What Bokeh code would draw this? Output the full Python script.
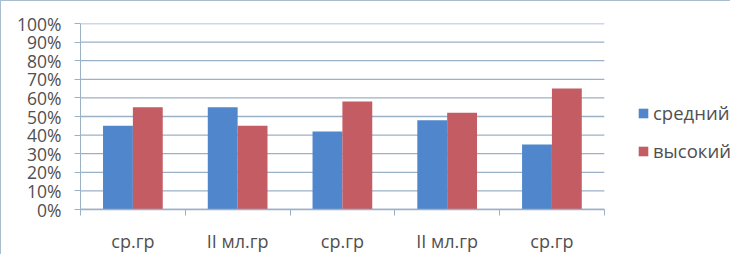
from bokeh.plotting import figure
from bokeh.models import (ColumnDataSource, Range1d, FixedTicker, Legend, LegendItem)
from bokeh.embed import file_html
from bokeh.resources import INLINE

categories = ["ср.гр", "II мл.гр", "ср.гр", "II мл.гр", "ср.гр"]
srednij = [0.45, 0.55, 0.42, 0.48, 0.35]
vysokij = [0.55, 0.45, 0.58, 0.52, 0.65]
series_names = ["средний", "высокий"]
y_ticks = [0, 0.1, 0.2, 0.3, 0.4, 0.5, 0.6, 0.7, 0.8, 0.9, 1.0]

BLUE = "#4F86CC"
RED = "#C45C63"
GRID = "#9BB1C6"
TEXT = "#505050"
FONT = "Open Sans"

n = len(categories)
centers = [i + 0.5 for i in range(n)]
bw = 0.285
src = ColumnDataSource(dict(
    xb=[c - bw / 2 for c in centers], yb=srednij,
    xr=[c + bw / 2 for c in centers], yr=vysokij,
))

# plot area of categories is 523px inside a frame of ~650px; extra room holds the legend
x_end = n * 650 / 523

p = figure(width=730, height=254, output_backend="svg", toolbar_location=None,
           x_range=Range1d(0, x_end), y_range=Range1d(0, 1),
           min_border_left=79, min_border_right=0, min_border_top=22, min_border_bottom=37)
p.styles = {"border-top": "1.5px solid #A9BDCF", "border-left": "1.5px solid #A9BDCF"}

# horizontal gridlines only across the category area
p.segment(x0=[0] * len(y_ticks), x1=[n] * len(y_ticks), y0=y_ticks, y1=y_ticks,
          line_color=GRID, line_width=1.3)

rb = p.vbar(x="xb", top="yb", width=bw, source=src, fill_color=BLUE, line_color=None)
rr = p.vbar(x="xr", top="yr", width=bw, source=src, fill_color=RED, line_color=None)

p.outline_line_color = None
p.xgrid.visible = False
p.ygrid.visible = False

ya = p.yaxis[0]
ya.ticker = FixedTicker(ticks=y_ticks)
ya.major_label_overrides = {t: f"{round(t * 100)}%" for t in y_ticks}
ya.major_tick_in = 0
ya.major_tick_out = 6
ya.minor_tick_out = 0
ya.minor_tick_in = 0
ya.axis_line_color = GRID
ya.major_tick_line_color = GRID
ya.major_label_text_font = FONT
ya.major_label_text_font_size = "17.5px"
ya.major_label_text_color = TEXT
ya.major_label_standoff = 13

xa = p.xaxis[0]
xa.bounds = (0, n)
xa.ticker = FixedTicker(ticks=centers, minor_ticks=list(range(n + 1)))
xa.major_label_overrides = {c: lab for c, lab in zip(centers, categories)}
xa.major_tick_in = 0
xa.major_tick_out = 0
xa.minor_tick_in = 0
xa.minor_tick_out = 6
xa.minor_tick_line_color = GRID
xa.axis_line_color = GRID
xa.axis_line_width = 1.3
xa.major_label_text_font = FONT
xa.major_label_text_font_size = "18px"
xa.major_label_text_color = TEXT
xa.major_label_standoff = 13

legend = Legend(items=[LegendItem(label=series_names[0], renderers=[rb]),
                       LegendItem(label=series_names[1], renderers=[rr])],
                location=(557, 46), orientation="vertical",
                border_line_color=None, background_fill_alpha=0,
                padding=0, margin=0,
                glyph_width=12, glyph_height=12, label_height=24, spacing=13,
                label_text_font=FONT, label_text_font_size="18.5px",
                label_text_color=TEXT, label_standoff=4)
p.add_layout(legend, "center")

open("out.html", "w").write(file_html(p, INLINE))
